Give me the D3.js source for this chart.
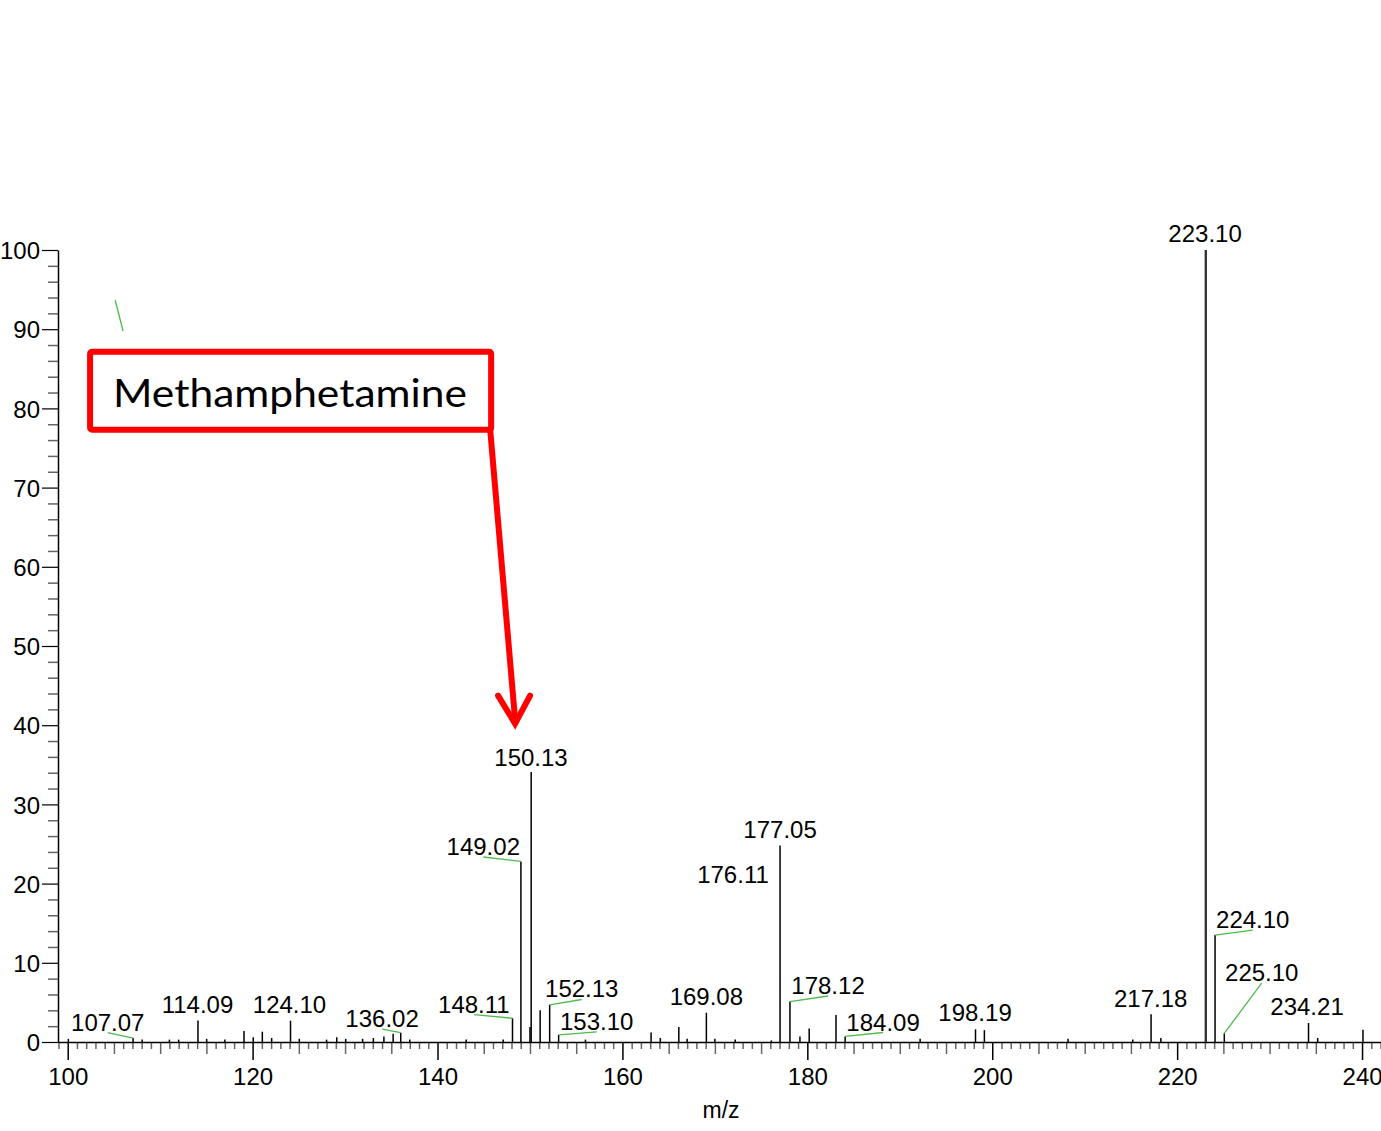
<!DOCTYPE html>
<html>
<head>
<meta charset="utf-8">
<script src="https://cdn.jsdelivr.net/npm/d3@7/dist/d3.min.js"></script>
<style>
  html, body { margin: 0; padding: 0; background: #fff; }
  svg { display: block; }
</style>
</head>
<body>
<svg id="chart" width="1381" height="1131"></svg>
<script>
// ---- Data ----
const peakMz = [100.07, 107.07, 108.05, 111.0, 112.0, 114.09, 115.03, 117.0, 119.07, 120.07, 121.05, 122.06,
  124.10, 125.05, 128.0, 129.1, 130.07, 131.9, 133.06, 134.2, 135.2, 136.02, 137.0, 143.1, 147.1,
  148.11, 149.02, 150.0, 150.13, 151.1, 152.13, 153.10, 156.0, 163.1, 164.1, 166.1, 167.0, 169.08,
  170.0, 172.2, 176.11, 177.05, 178.12, 179.2, 180.2, 183.1, 184.09, 192.2, 198.19, 199.15, 208.2,
  215.2, 217.18, 218.24, 223.10, 224.10, 225.10, 234.21, 235.2, 240.1];
const peakIntensity = [0.4, 0.5, 0.3, 0.3, 0.3, 2.7, 0.4, 0.3, 1.4, 0.6, 1.3, 0.5,
  2.7, 0.4, 0.3, 0.6, 0.4, 0.4, 0.5, 0.7, 1.05, 1.17, 0.3, 0.3, 0.3,
  3.0, 22.8, 1.9, 34.1, 4.0, 4.7, 0.9, 0.3, 1.2, 0.5, 1.9, 0.4, 3.7,
  0.4, 0.3, 0.2, 24.8, 5.1, 0.7, 1.7, 3.4, 0.7, 0.4, 1.6, 1.5, 0.4,
  0.3, 3.5, 0.5, 100, 13.5, 1.1, 2.4, 0.5, 1.55];

// Labelled peaks: text, peak m/z, label anchor (m/z, intensity), leader line flag
const labelText   = ["107.07","114.09","124.10","136.02","148.11","149.02","150.13","152.13","153.10","169.08",
  "176.11","177.05","178.12","184.09","198.19","217.18","223.10","224.10","225.10","234.21"];
const labelPeakMz = [107.07,114.09,124.10,136.02,148.11,149.02,150.13,152.13,153.10,169.08,
  176.11,177.05,178.12,184.09,198.19,217.18,223.10,224.10,225.10,234.21];
const labelAtMz   = [104.33,114.04,123.99,134.0,143.93,144.95,150.11,155.60,157.22,169.08,
  171.96,177.05,182.24,188.19,198.14,217.14,223.02,228.18,229.15,234.05];
const labelAtInt  = [1.43,3.66,3.66,1.89,3.72,23.61,34.85,5.62,1.52,4.61,
  20.08,25.76,6.06,1.45,2.59,4.48,101.07,14.39,7.70,3.41];
const labelLeader = [1,0,0,1,1,1,0,1,1,0, 0,0,1,1,0,0,0,1,1,0];

// stray leader (no label) in data coordinates
const strayLeader = [[105.13, 93.69], [105.99, 89.77]];

// annotation box and arrow (data coordinates)
const boxCorners = [[102.42, 87.15], [145.8, 77.3]];
const arrowPath = [[145.68, 77.55], [148.39, 40.2]];
const annotationText = "Methamphetamine";

const xMajorTicks = [100, 120, 140, 160, 180, 200, 220, 240];
const yMajorTicks = [0, 10, 20, 30, 40, 50, 60, 70, 80, 90, 100];
const xAxisTitle = "m/z";

// ---- Scales ----
const svg = d3.select("#chart");
const x = d3.scaleLinear().domain([98.95, 242.05]).range([58, 1381]);
const y = d3.scaleLinear().domain([0, 100]).range([1042, 250]);
const numFont = "'Liberation Sans', Arial, sans-serif";

// ---- X axis: minor, medium, major ----
const minorX = d3.range(99, 243, 1).filter(v => v % 5 !== 0);
const medX = d3.range(100, 243, 5).filter(v => v % 20 !== 0);

const gxMinor = svg.append("g").attr("transform", `translate(0,${y(0)})`)
  .call(d3.axisBottom(x).tickValues(minorX).tickSize(7).tickSizeOuter(0).tickFormat(""));
gxMinor.select(".domain").remove();
gxMinor.selectAll("line").attr("stroke", "#666").attr("stroke-width", 1.5);

const gxMed = svg.append("g").attr("transform", `translate(0,${y(0)})`)
  .call(d3.axisBottom(x).tickValues(medX).tickSize(12).tickSizeOuter(0).tickFormat(""));
gxMed.select(".domain").remove();
gxMed.selectAll("line").attr("stroke", "#666").attr("stroke-width", 1.5);

const gx = svg.append("g").attr("transform", `translate(0,${y(0)})`)
  .call(d3.axisBottom(x).tickValues(xMajorTicks).tickSize(18).tickSizeOuter(0).tickPadding(8));
gx.select(".domain").attr("stroke", "#000").attr("stroke-width", 1.5);
gx.selectAll("line").attr("stroke", "#000").attr("stroke-width", 1.5);
gx.selectAll("text").attr("font-family", numFont).attr("font-size", 24).attr("fill", "#000")
  .attr("dy", "0.71em");

// ---- Y axis ----
const minorY = d3.range(0, 101, 2).filter(v => v % 10 !== 0);
const gyMinor = svg.append("g").attr("transform", `translate(${x.range()[0]},0)`)
  .call(d3.axisLeft(y).tickValues(minorY).tickSize(10).tickSizeOuter(0).tickFormat(""));
gyMinor.select(".domain").remove();
gyMinor.selectAll("line").attr("stroke", "#666").attr("stroke-width", 1.5);

const gy = svg.append("g").attr("transform", `translate(${x.range()[0]},0)`)
  .call(d3.axisLeft(y).tickValues(yMajorTicks).tickSize(16).tickSizeOuter(0).tickPadding(2));
gy.select(".domain").attr("stroke", "#000").attr("stroke-width", 1.5);
gy.selectAll("line").attr("stroke", "#000").attr("stroke-width", 1.2);
gy.selectAll("text").attr("font-family", numFont).attr("font-size", 24).attr("fill", "#000")
  .attr("dy", "0.36em");

// axis title
svg.append("text").attr("x", 721).attr("y", 1118).attr("text-anchor", "middle")
  .attr("font-family", numFont).attr("font-size", 23).attr("fill", "#000").text(xAxisTitle);

// ---- Peaks ----
const peaks = peakMz.map((m, i) => ({ m, v: peakIntensity[i] }));
svg.append("g").selectAll("line").data(peaks).join("line")
  .attr("x1", d => x(d.m)).attr("x2", d => x(d.m))
  .attr("y1", y(0)).attr("y2", d => y(d.v))
  .attr("stroke", d => d.v >= 50 ? "#333" : "#000")
  .attr("stroke-width", d => d.v >= 50 ? 2.4 : 1.5);

// ---- Labels & leaders ----
const labels = labelText.map((t, i) => ({
  t, pm: labelPeakMz[i], lm: labelAtMz[i], li: labelAtInt[i], leader: labelLeader[i],
  pv: peakIntensity[peakMz.indexOf(labelPeakMz[i])]
}));
svg.append("g").selectAll("line").data(labels.filter(d => d.leader)).join("line")
  .attr("x1", d => x(d.lm)).attr("y1", d => y(d.li) + 2)
  .attr("x2", d => x(d.pm)).attr("y2", d => y(d.pv))
  .attr("stroke", "#4cbb4c").attr("stroke-width", 1.3);

svg.append("line")
  .attr("x1", x(strayLeader[0][0])).attr("y1", y(strayLeader[0][1]))
  .attr("x2", x(strayLeader[1][0])).attr("y2", y(strayLeader[1][1]))
  .attr("stroke", "#4cbb4c").attr("stroke-width", 1.3);

svg.append("g").selectAll("text").data(labels).join("text")
  .attr("x", d => x(d.lm)).attr("y", d => y(d.li))
  .attr("text-anchor", "middle")
  .attr("font-family", numFont).attr("font-size", 24).attr("fill", "#000")
  .text(d => d.t);

// ---- Annotation box & arrow ----
const bx0 = x(boxCorners[0][0]), by0 = y(boxCorners[0][1]);
const bx1 = x(boxCorners[1][0]), by1 = y(boxCorners[1][1]);
const ax0 = x(arrowPath[0][0]), ay0 = y(arrowPath[0][1]);
const ax1 = x(arrowPath[1][0]), ay1 = y(arrowPath[1][1]);

svg.append("line").attr("x1", ax0).attr("y1", ay0).attr("x2", ax1).attr("y2", ay1 - 4)
  .attr("stroke", "#ff0000").attr("stroke-width", 6);
svg.append("path")
  .attr("d", `M${ax1 - 17},${ay1 - 28} L${ax1},${ay1} L${ax1 + 15},${ay1 - 28}`)
  .attr("fill", "none").attr("stroke", "#ff0000").attr("stroke-width", 6)
  .attr("stroke-linejoin", "miter").attr("stroke-linecap", "round");

svg.append("rect").attr("x", bx0).attr("y", by0).attr("width", bx1 - bx0).attr("height", by1 - by0)
  .attr("rx", 2).attr("fill", "#fff").attr("stroke", "#ff0000").attr("stroke-width", 6);
svg.append("text").attr("x", 113).attr("y", 407)
  .attr("font-family", "Lato, 'Open Sans', sans-serif").attr("font-size", 38).attr("fill", "#000")
  .attr("textLength", 354).attr("lengthAdjust", "spacingAndGlyphs")
  .text(annotationText);
</script>
</body>
</html>
